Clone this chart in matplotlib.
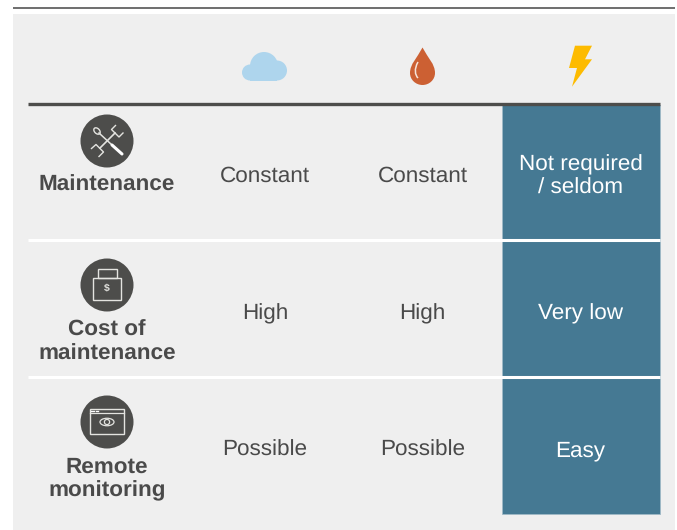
import numpy as np
import matplotlib
matplotlib.use("Agg")
import matplotlib.pyplot as plt
from matplotlib.patches import Rectangle, Circle, PathPatch, Ellipse, Polygon
from matplotlib.path import Path

row_labels = ["Maintenance", "Cost of\nmaintenance", "Remote\nmonitoring"]
cloud_values = ["Constant", "High", "Possible"]
oil_values = ["Constant", "High", "Possible"]
electric_values = ["Not required\n/ seldom", "Very low", "Easy"]

W, H = 677, 530
plt.rcParams["font.family"] = ["Liberation Sans", "DejaVu Sans"]
plt.rcParams["text.hinting"] = "no_hinting"
fig = plt.figure(figsize=(W / 100, H / 100), dpi=100, facecolor="white")
ax = fig.add_axes([0, 0, 1, 1])
ax.set_xlim(0, W); ax.set_ylim(H, 0); ax.axis("off")

GREY = "#efefef"; BLUE = "#457993"; DARK = "#4d4d4b"; TEXT = "#4a4a4a"

ax.add_patch(Rectangle((13, 14), 662, 516, fc=GREY, ec="none"))
ax.plot([13, 675], [8, 8], color="#555555", lw=1.2, solid_capstyle="butt")

col_x = [265, 422.5, 580.5]
row_edges = [105, 240, 377, 514]
row_text_y = [176.5, 314, 450.5]
ax.add_patch(Rectangle((502, 105), 157.5, 409, fc=BLUE, ec="#9fb9c6", lw=0.6))
for y in row_edges[1:3]:
    ax.plot([28, 660], [y, y], color="white", lw=2.2, solid_capstyle="butt")
ax.plot([28, 659.5], [103.7, 103.7], color=DARK, lw=2.4, solid_capstyle="butt")

FS = 16.2
LS = 1.2
for y, a, b, c in zip(row_text_y, cloud_values, oil_values, electric_values):
    ax.text(col_x[0], y, a, color=TEXT, fontsize=FS, ha="center", va="center")
    ax.text(col_x[1], y, b, color=TEXT, fontsize=FS, ha="center", va="center")
    ax.text(col_x[2], y, c, color="white", fontsize=FS, ha="center", va="center", linespacing=LS)

label_y = [185.5, 342, 479]
for y, t in zip(label_y, row_labels):
    ax.text(107, y, t, color=TEXT, fontsize=FS, fontweight="bold", ha="center", va="center", linespacing=LS)

# header icons
CLOUD = "#aed5ed"
ax.add_patch(Circle((264, 66), 14, fc=CLOUD, ec="none"))
ax.add_patch(Circle((277, 70.5), 10, fc=CLOUD, ec="none"))
ax.add_patch(Circle((250, 72.5), 8, fc=CLOUD, ec="none"))
ax.add_patch(Rectangle((250, 68), 27, 12.5, fc=CLOUD, ec="none"))

ORANGE = "#cc6033"
drop = Path([(422.5, 47.5), (417, 58), (410, 64), (410, 73), (410, 80), (416, 85), (422.5, 85),
             (429, 85), (435, 80), (435, 73), (435, 64), (428, 58), (422.5, 47.5), (422.5, 47.5)],
            [Path.MOVETO] + [Path.CURVE4] * 12 + [Path.CLOSEPOLY])
ax.add_patch(PathPatch(drop, fc=ORANGE, ec="none"))
ax.add_patch(PathPatch(Path([(418, 62), (414, 69), (415, 75), (418, 78)],
                            [Path.MOVETO, Path.CURVE4, Path.CURVE4, Path.CURVE4]),
                       fc="none", ec="#f6e3d8", lw=1.1))

ax.add_patch(Polygon([(575, 45.7), (592, 45.7), (585, 59.3), (592, 59.3), (572, 86.7), (577, 68), (569, 68)],
                     closed=True, fc="#fdbb00", ec="none"))

# row icons
IC = "#e4e4e0"
icon_y = [141, 285, 422]
for cy in icon_y:
    ax.add_patch(Circle((107, cy), 26.5, fc=DARK, ec="none"))

# crossed tools
ax.plot([99, 112], [133, 145], color=IC, lw=1.1)
ax.plot([112, 122], [145, 154], color="white", lw=2.2, solid_capstyle="round")
ax.add_patch(Ellipse((97, 131), 5, 7.5, angle=-45, fc="none", ec=IC, lw=1.0))
ax.plot([100, 115], [148, 133], color=IC, lw=1.2)
ax.plot([115.5, 111.5, 119, 123], [125.5, 129.5, 137, 133], color=IC, lw=1.0)
ax.plot([91.5, 96, 103.5, 99], [148.5, 144.5, 152, 156.5], color=IC, lw=1.0)

# padlock / dollar
cy = icon_y[1]
ax.add_patch(Rectangle((93, cy - 7), 28, 22, fc="none", ec=IC, lw=1.0))
ax.add_patch(Rectangle((97.5, cy - 16), 19, 9, fc="none", ec=IC, lw=1.0))
ax.text(107, cy + 4, "$", color=IC, fontsize=7.5, fontweight="bold", ha="center", va="center")

# browser / eye
cy = icon_y[2]
ax.add_patch(Rectangle((89.5, cy - 13), 34, 25, fc="none", ec=IC, lw=1.0))
ax.plot([89.5, 123.5], [cy - 9, cy - 9], color=IC, lw=0.9)
ax.plot([91, 94], [cy - 11, cy - 11], color="white", lw=1.0)
ax.plot([95.5, 98], [cy - 11, cy - 11], color="white", lw=1.0)
ax.add_patch(Ellipse((107, cy), 14, 7.5, fc="none", ec=IC, lw=0.9))
ax.add_patch(Circle((107, cy), 2.6, fc="none", ec=IC, lw=0.9))

fig.savefig("out.png", dpi=100, facecolor="white")
